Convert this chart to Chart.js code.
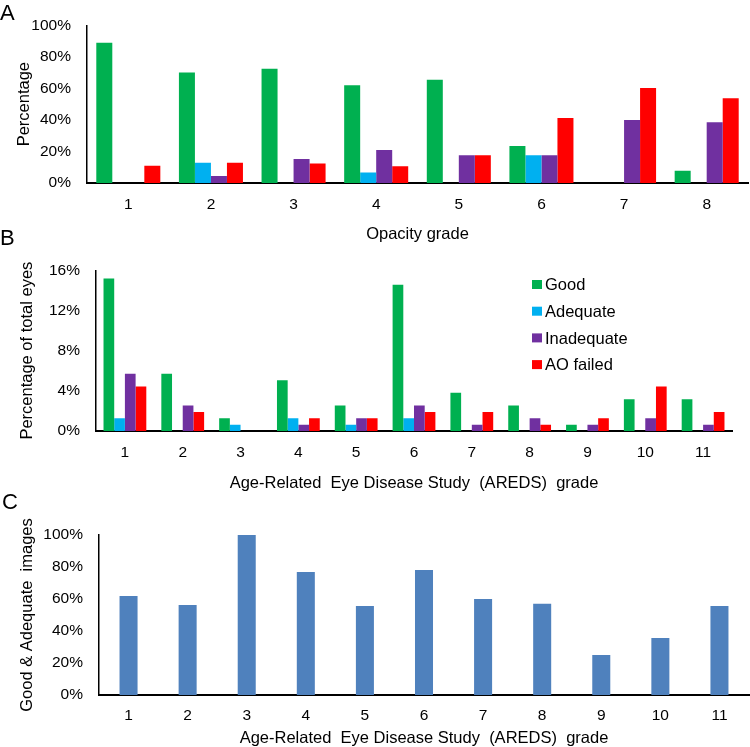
<!DOCTYPE html>
<html>
<head>
<meta charset="utf-8">
<script src="https://cdn.jsdelivr.net/npm/chart.js@4.4.1/dist/chart.umd.min.js"></script>
<style>
  html, body { margin: 0; padding: 0; background: #fff; }
  body { width: 750px; height: 747px; position: relative; overflow: hidden; font-family: 'Liberation Sans', Arial, sans-serif; }
  .box { position: absolute; left: 0; width: 750px; }
  .letter { position: absolute; left: 0; font-size: 22px; line-height: 22px; color: #000; }
</style>
</head>
<body>
<div class="box" id="wa" style="top:0;height:245px"><canvas id="ca"></canvas></div>
<div class="box" id="wb" style="top:245px;height:250px"><canvas id="cb"></canvas></div>
<div class="box" id="wc" style="top:495px;height:252px"><canvas id="cc"></canvas></div>
<div class="letter" style="top:2px;left:0px">A</div>
<div class="letter" style="top:227px;left:0px">B</div>
<div class="letter" style="top:491px;left:2px">C</div>
<script>
// ---- Data ----
const opacityGrades = ['1', '2', '3', '4', '5', '6', '7', '8'];
const opGood       = [89, 70, 72.5, 62, 65.5, 23.5, 0, 7.7];
const opAdequate   = [0, 12.8, 0, 6.6, 0, 17.6, 0, 0];
const opInadequate = [0, 4.4, 15.2, 21, 17.6, 17.6, 40, 38.6];
const opFailed     = [11, 12.8, 12.3, 10.6, 17.6, 41.2, 60.3, 53.7];
const opTicks = [0, 20, 40, 60, 80, 100];

const aredsGrades = ['1', '2', '3', '4', '5', '6', '7', '8', '9', '10', '11'];
const arGood       = [15.19, 5.70, 1.27, 5.06, 2.53, 14.56, 3.80, 2.53, 0.63, 3.16, 3.16];
const arAdequate   = [1.27, 0, 0.63, 1.27, 0.63, 1.27, 0, 0, 0, 0, 0];
const arInadequate = [5.70, 2.53, 0, 0.63, 1.27, 2.53, 0.63, 1.27, 0.63, 1.27, 0.63];
const arFailed     = [4.43, 1.90, 0, 1.27, 1.27, 1.90, 1.90, 0.63, 1.27, 4.43, 1.90];
const arTicks = [0, 4, 8, 12, 16];

const goodAdequate = [61.9, 56.3, 100, 76.9, 55.6, 78.1, 60, 57.1, 25, 35.7, 55.6];
const gaTicks = [0, 20, 40, 60, 80, 100];

const seriesNames = ['Good', 'Adequate', 'Inadequate', 'AO failed'];
const seriesColors = ['#00B050', '#00B0F0', '#7030A0', '#FF0000'];

// ---- Style ----
const FONT = "'Liberation Sans', Arial, sans-serif";
Chart.defaults.font.family = FONT;
Chart.defaults.color = '#000';
Chart.defaults.animation = false;

function xScale(title, height, tickPad, titlePad) {
  return {
    type: 'category',
    offset: true,
    grid: { display: false, drawTicks: false },
    border: { display: true, color: '#000', width: 2 },
    ticks: { font: { size: 15.5 }, color: '#000', padding: tickPad, maxRotation: 0, autoSkip: false },
    title: { display: true, text: title, font: { size: 16.5 }, color: '#000', padding: { top: 0, bottom: titlePad } },
    afterFit: s => { s.height = height; }
  };
}
function yScale(title, width, tickVals, max, titlePad) {
  return {
    type: 'linear',
    min: 0, max: max,
    grid: { display: false, drawTicks: false },
    border: { display: true, color: '#000', width: 1.5 },
    afterBuildTicks: s => { s.ticks = tickVals.map(v => ({ value: v })); },
    ticks: { font: { size: 15.5 }, color: '#000', padding: 16, callback: v => v + '%' },
    title: { display: true, text: title, font: { size: 16.5 }, color: '#000', padding: { top: titlePad, bottom: 0 } },
    afterFit: s => { s.width = width; }
  };
}
function groupedSets(arrs) {
  return arrs.map((d, i) => ({
    label: seriesNames[i], data: d, backgroundColor: seriesColors[i], borderWidth: 0,
    barPercentage: 1
  }));
}

const boxLegend = {
  id: 'boxLegend',
  afterDraw(chart, args, opts) {
    if (!opts || !opts.show) return;
    const ctx = chart.ctx;
    ctx.save();
    chart.data.datasets.forEach((ds, i) => {
      const cy = opts.y + i * opts.gap;
      ctx.fillStyle = ds.backgroundColor;
      ctx.fillRect(opts.x, cy - 4.5, 10, 9);
      ctx.fillStyle = '#000';
      ctx.font = '16.5px ' + FONT;
      ctx.textBaseline = 'alphabetic';
      ctx.textAlign = 'left';
      ctx.fillText(ds.label, opts.x + 13, cy + 5.8);
    });
    ctx.restore();
  }
};

// ---- Panel A ----
const dsA = groupedSets([opGood, opAdequate, opInadequate, opFailed]);
dsA.forEach(d => d.categoryPercentage = 0.775);
new Chart(document.getElementById('ca'), {
  type: 'bar',
  data: { labels: opacityGrades, datasets: dsA },
  options: {
    responsive: true, maintainAspectRatio: false,
    layout: { padding: { left: 0, right: 2, top: 16, bottom: 0 } },
    plugins: { legend: { display: false }, tooltip: { enabled: false } },
    scales: {
      x: xScale('Opacity grade', 62, 12, 0.5),
      y: yScale('Percentage', 87, opTicks, 100, 15)
    }
  }
});

// ---- Panel B ----
const dsB = groupedSets([arGood, arAdequate, arInadequate, arFailed]);
dsB.forEach(d => d.categoryPercentage = 0.74);
new Chart(document.getElementById('cb'), {
  type: 'bar',
  data: { labels: aredsGrades, datasets: dsB },
  options: {
    responsive: true, maintainAspectRatio: false,
    layout: { padding: { left: 0, right: 18, top: 25, bottom: 0 } },
    plugins: { legend: { display: false }, tooltip: { enabled: false },
      boxLegend: { show: true, x: 532, y: 39.5, gap: 26.7 } },
    scales: {
      x: xScale('Age-Related  Eye Disease Study  (AREDS)  grade', 64, 12, 1.5),
      y: yScale('Percentage of total eyes', 96, arTicks, 16, 18)
    }
  },
  plugins: [boxLegend]
});

// ---- Panel C ----
new Chart(document.getElementById('cc'), {
  type: 'bar',
  data: { labels: aredsGrades, datasets: [{
    label: 'Good & Adequate images', data: goodAdequate, backgroundColor: '#4F81BD',
    borderWidth: 0, barPercentage: 1, categoryPercentage: 0.305 }] },
  options: {
    responsive: true, maintainAspectRatio: false,
    layout: { padding: { left: 0, right: 1, top: 40, bottom: 0 } },
    plugins: { legend: { display: false }, tooltip: { enabled: false } },
    scales: {
      x: xScale('Age-Related  Eye Disease Study  (AREDS)  grade', 52, 11, -1),
      y: yScale('Good & Adequate  images', 99, gaTicks, 100, 18)
    }
  }
});
</script>
</body>
</html>
